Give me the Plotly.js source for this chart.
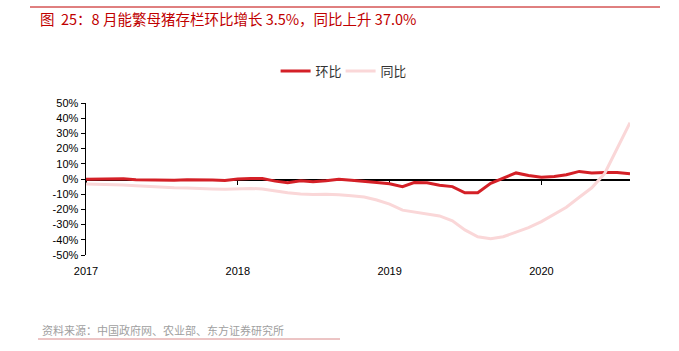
<!DOCTYPE html>
<html>
<head>
<meta charset="utf-8">
<script src="https://cdn.plot.ly/plotly-3.0.1.min.js"></script>
<style>html,body{margin:0;padding:0;background:#fff;}#chart{width:679px;height:351px;}</style>
</head>
<body>
<div id="chart"></div>
<script>
const months = [
  '2017-01-01','2017-02-01','2017-03-01','2017-04-01','2017-05-01','2017-06-01','2017-07-01','2017-08-01','2017-09-01','2017-10-01','2017-11-01','2017-12-01',
  '2018-01-01','2018-02-01','2018-03-01','2018-04-01','2018-05-01','2018-06-01','2018-07-01','2018-08-01','2018-09-01','2018-10-01','2018-11-01','2018-12-01',
  '2019-01-01','2019-02-01','2019-03-01','2019-04-01','2019-05-01','2019-06-01','2019-07-01','2019-08-01','2019-09-01','2019-10-01','2019-11-01','2019-12-01',
  '2020-01-01','2020-02-01','2020-03-01','2020-04-01','2020-05-01','2020-06-01','2020-07-01','2020-08-01'
];
// 环比 (month-on-month, %)
const momValues = [
  -0.2, 0.0, 0.3, 0.2, -0.5, -0.6, -1.0, -0.8, -0.5, -0.4, -0.6, -1.0,
  0.0, 0.3, 0.3, -1.4, -2.4, -1.2, -1.8, -1.2, -0.2, -0.8, -1.4, -2.3,
  -3.1, -5.0, -2.3, -2.5, -4.1, -5.0, -9.1, -9.1, -2.9, 0.6, 4.0, 2.3,
  1.2, 1.6, 2.8, 5.0, 4.0, 4.3, 4.2, 3.5
];
// 同比 (year-on-year, %)
const yoyValues = [
  -3.3, -3.4, -3.6, -4.0, -4.5, -5.0, -5.5, -5.8, -6.0, -6.1, -6.5, -6.8,
  -6.6, -6.2, -6.6, -8.0, -9.0, -9.8, -10.2, -10.1, -10.3, -11.0, -11.8, -13.8,
  -16.5, -20.5, -21.8, -22.8, -24.3, -27.5, -33.5, -38.0, -39.3, -38.0, -35.0, -32.0,
  -28.0, -23.0, -18.6, -12.0, -5.8, 3.6, 20.2, 37.0
];
const seriesNames = ['环比', '同比'];
const yTickVals = [50, 40, 30, 20, 10, 0, -10, -20, -30, -40, -50];
const yTickText = yTickVals.map(v => v + '%');
const titleText = '图\u00a0\u00a025：8 月能繁母猪存栏环比增长 3.5%，同比上升 37.0%';
const sourceText = '资料来源：中国政府网、农业部、东方证券研究所';

const cjk = '"Noto Sans CJK SC", "Liberation Sans", Arial, sans-serif';
const latin = '"Liberation Sans", Arial, sans-serif';

const traces = [
  {x: months, y: momValues, name: seriesNames[0], type: 'scatter', mode: 'lines',
   line: {color: '#D42027', width: 3}, hoverinfo: 'skip'},
  {x: months, y: yoyValues, name: seriesNames[1], type: 'scatter', mode: 'lines',
   line: {color: '#FAD7D8', width: 3}, hoverinfo: 'skip'},
  // carrier for the zero-line axis (draws nothing)
  {x: months, y: momValues, xaxis: 'x2', type: 'scatter', mode: 'lines', opacity: 0,
   line: {width: 0}, showlegend: false, hoverinfo: 'skip'}
];

const layout = {
  width: 679, height: 351,
  margin: {l: 86, r: 49, t: 103, b: 96},
  paper_bgcolor: '#fff', plot_bgcolor: '#fff',
  font: {family: cjk, size: 11, color: '#000'},
  title: {text: titleText, font: {family: cjk, size: 14.5, color: '#C00000'},
          xref: 'container', x: 40/679, xanchor: 'left', yref: 'container', y: 1 - 20/351, yanchor: 'middle'},
  showlegend: true,
  legend: {orientation: 'h', x: 0.468, xanchor: 'center', y: 1.21, yanchor: 'middle',
           font: {family: cjk, size: 13, color: '#333'}, itemwidth: 30, tracegroupgap: 0,
           entrywidth: 20, entrywidthmode: 'pixels'},
  xaxis: {type: 'date', range: ['2017-01-01', '2020-08-01'], tick0: '2017-01-01', dtick: 'M12',
          tickformat: '%Y', showgrid: false, zeroline: false, showline: false, ticks: '',
          ticklabelstandoff: 8,
          tickfont: {family: latin, size: 11, color: '#000'}, fixedrange: true},
  xaxis2: {type: 'date', matches: 'x', overlaying: 'x', anchor: 'free', position: 0.5,
           range: ['2017-01-01', '2020-08-01'], tick0: '2017-01-01', dtick: 'M12', layer: 'below traces',
           showticklabels: false, showgrid: false, zeroline: false, showline: true,
           linecolor: '#000', linewidth: 1.5, ticks: 'outside', ticklen: 4, tickcolor: '#000', tickwidth: 1},
  yaxis: {range: [-50, 50], tickvals: yTickVals, ticktext: yTickText, showgrid: false,
          zeroline: false,
          showline: true, linecolor: '#000', linewidth: 1.5, ticks: 'outside', ticklen: 4, tickcolor: '#000',
          tickfont: {family: latin, size: 11, color: '#000'}, fixedrange: true},
  shapes: [
    {type: 'line', xref: 'paper', yref: 'paper', x0: (30-86)/544, x1: (660-86)/544, y0: (255-7)/152, y1: (255-7)/152,
     line: {color: '#C00000', width: 1}},
    {type: 'line', xref: 'paper', yref: 'paper', x0: (38-86)/544, x1: (340-86)/544, y0: (255-339)/152, y1: (255-339)/152,
     line: {color: '#D98A8A', width: 1}}
  ],
  annotations: [
    {text: sourceText, xref: 'paper', yref: 'paper', x: (40-86)/544, y: (255-330)/152, xanchor: 'left', yanchor: 'middle',
     showarrow: false, font: {family: cjk, size: 11, color: '#A0A0A0'}}
  ]
};

Plotly.newPlot('chart', traces, layout, {staticPlot: true, displayModeBar: false});
</script>
</body>
</html>
